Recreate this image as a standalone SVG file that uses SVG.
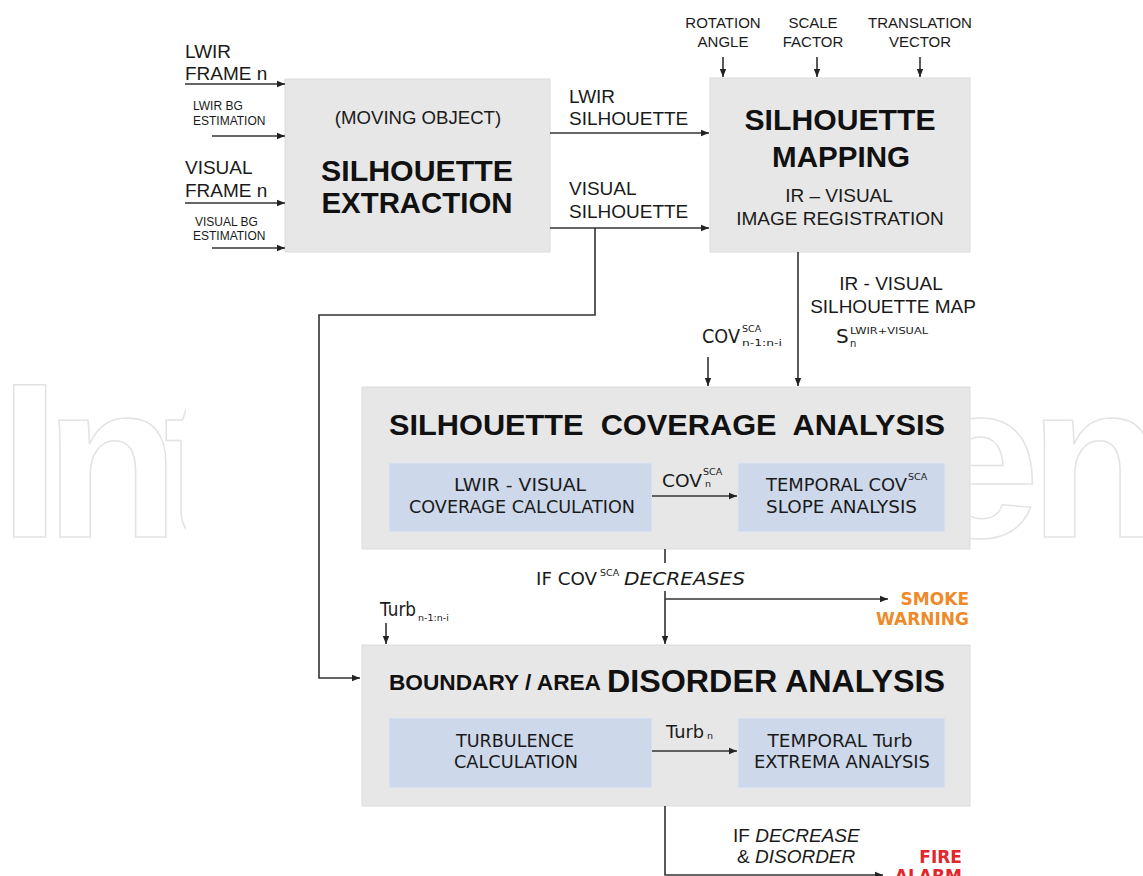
<svg xmlns="http://www.w3.org/2000/svg" width="1143" height="876" viewBox="0 0 1143 876">
<defs>
<style>
.box{fill:#e7e7e7;stroke:#dcdcdc;stroke-width:1}
.sub{fill:#cdd9eb;stroke:#dfe6f0;stroke-width:1}
.ln{fill:none;stroke:#333;stroke-width:1.6}
.ar{fill:none;stroke:#333;stroke-width:1.6;marker-end:url(#ah)}
.a{font-family:"Liberation Sans",Arial,sans-serif;fill:#1a1a1a}
.b{font-family:"Liberation Sans",Arial,sans-serif;font-weight:bold;fill:#111}
.t{font-family:"DejaVu Sans",Verdana,sans-serif;fill:#1a1a1a}
.w{font-family:"DejaVu Sans",Verdana,sans-serif;font-weight:bold;font-size:17px}
.wm{font-family:"Liberation Sans",Arial,sans-serif;font-weight:700;font-size:221px;fill:#fff;stroke:#e3e3e3;stroke-width:1.5}
</style>
<marker id="ah" viewBox="0 0 10 10" refX="10" refY="5" markerWidth="8" markerHeight="8" markerUnits="userSpaceOnUse" orient="auto"><path d="M0,1 L10,5 L0,9 z" fill="#222"/></marker>
<clipPath id="cl"><rect x="0" y="300" width="186" height="300"/></clipPath>
<clipPath id="cr"><rect x="971" y="300" width="172" height="300"/></clipPath>
</defs>
<rect width="1143" height="876" fill="#fff"/>
<g id="watermark">
<text class="wm" x="-1" y="537" letter-spacing="-16" clip-path="url(#cl)">Int</text>
<text class="wm" x="917" y="537" letter-spacing="-11" clip-path="url(#cr)">en</text>
</g>
<g id="inputs">
<text class="a" font-size="19" x="185" y="58">LWIR</text>
<text class="a" font-size="19" x="185" y="80">FRAME n</text>
<text class="a" font-size="12" x="193" y="110">LWIR BG</text>
<text class="a" font-size="12" x="193" y="125">ESTIMATION</text>
<text class="a" font-size="19" x="185" y="174">VISUAL</text>
<text class="a" font-size="19" x="185" y="197">FRAME n</text>
<text class="a" font-size="12" x="195" y="226">VISUAL BG</text>
<text class="a" font-size="12" x="193" y="240">ESTIMATION</text>
<text class="a" font-size="15" x="723" y="28" text-anchor="middle">ROTATION</text>
<text class="a" font-size="15" x="723" y="47" text-anchor="middle">ANGLE</text>
<text class="a" font-size="15" x="813" y="28" text-anchor="middle">SCALE</text>
<text class="a" font-size="15" x="813" y="47" text-anchor="middle">FACTOR</text>
<text class="a" font-size="15" x="920" y="28" text-anchor="middle">TRANSLATION</text>
<text class="a" font-size="15" x="920" y="47" text-anchor="middle">VECTOR</text>
</g>
<g id="n-extraction">
<rect class="box" x="285" y="79" width="265" height="173"/>
<text class="a" font-size="18.6" x="418" y="124" text-anchor="middle">(MOVING OBJECT)</text>
<text class="b" font-size="30" x="417" y="181" text-anchor="middle" textLength="192" lengthAdjust="spacingAndGlyphs">SILHOUETTE</text>
<text class="b" font-size="30" x="417" y="213" text-anchor="middle" textLength="191" lengthAdjust="spacingAndGlyphs">EXTRACTION</text>
</g>
<g id="n-mapping">
<rect class="box" x="710" y="78" width="260" height="174"/>
<text class="b" font-size="30" x="840" y="130" text-anchor="middle" textLength="191" lengthAdjust="spacingAndGlyphs">SILHOUETTE</text>
<text class="b" font-size="30" x="841" y="167" text-anchor="middle" textLength="138" lengthAdjust="spacingAndGlyphs">MAPPING</text>
<text class="a" font-size="19" x="839" y="202" text-anchor="middle">IR – VISUAL</text>
<text class="a" font-size="19" x="840" y="225" text-anchor="middle">IMAGE REGISTRATION</text>
</g>
<g id="n-coverage">
<rect class="box" x="362" y="387" width="608" height="162"/>
<text class="b" font-size="29" x="389" y="435" textLength="556" lengthAdjust="spacingAndGlyphs" xml:space="preserve">SILHOUETTE  COVERAGE  ANALYSIS</text>
<g id="n-coverage-calc">
<rect class="sub" x="389" y="463" width="263" height="69"/>
<text class="t" font-size="18" x="520" y="491" text-anchor="middle" textLength="132" lengthAdjust="spacingAndGlyphs">LWIR - VISUAL</text>
<text class="t" font-size="18" x="522" y="513" text-anchor="middle" textLength="226" lengthAdjust="spacingAndGlyphs">COVERAGE CALCULATION</text>
</g>
<g id="n-coverage-slope">
<rect class="sub" x="738" y="463" width="207" height="69"/>
<text class="t" font-size="18" y="491"><tspan x="766" textLength="141" lengthAdjust="spacingAndGlyphs">TEMPORAL COV</tspan><tspan font-size="9.5" x="908" dy="-11">SCA</tspan></text>
<text class="t" font-size="18" x="766" y="513" textLength="151" lengthAdjust="spacingAndGlyphs">SLOPE ANALYSIS</text>
</g>
</g>
<g id="n-disorder">
<rect class="box" x="362" y="645" width="608" height="161"/>
<text class="b" font-size="22" x="389" y="690" textLength="212" lengthAdjust="spacingAndGlyphs">BOUNDARY / AREA</text>
<text class="b" font-size="31" x="607" y="692" textLength="338" lengthAdjust="spacingAndGlyphs">DISORDER ANALYSIS</text>
<g id="n-turb-calc">
<rect class="sub" x="389" y="718" width="263" height="70"/>
<text class="t" font-size="18" x="515" y="747" text-anchor="middle" textLength="118" lengthAdjust="spacingAndGlyphs">TURBULENCE</text>
<text class="t" font-size="18" x="516" y="768" text-anchor="middle" textLength="124" lengthAdjust="spacingAndGlyphs">CALCULATION</text>
</g>
<g id="n-turb-extrema">
<rect class="sub" x="738" y="718" width="207" height="70"/>
<text class="t" font-size="18" x="840" y="747" text-anchor="middle" textLength="145" lengthAdjust="spacingAndGlyphs">TEMPORAL Turb</text>
<text class="t" font-size="18" x="842" y="768" text-anchor="middle" textLength="176" lengthAdjust="spacingAndGlyphs">EXTREMA ANALYSIS</text>
</g>
</g>
<g id="outputs">
<text class="w" x="969" y="605" text-anchor="end" fill="#ef8a2a">SMOKE</text>
<text class="w" x="969" y="625" text-anchor="end" fill="#ef8a2a">WARNING</text>
<text class="w" x="962" y="863" text-anchor="end" fill="#e2262b">FIRE</text>
<text class="w" x="962" y="882" text-anchor="end" fill="#e2262b">ALARM</text>
</g>
<g id="connectors">
<line class="ar" x1="185" y1="84" x2="285" y2="84"/>
<line class="ar" x1="212" y1="136" x2="285" y2="136"/>
<line class="ar" x1="185" y1="203" x2="285" y2="203"/>
<line class="ar" x1="212" y1="248" x2="285" y2="248"/>
<line class="ar" x1="723" y1="57" x2="723" y2="77"/>
<line class="ar" x1="817" y1="57" x2="817" y2="77"/>
<line class="ar" x1="920" y1="57" x2="920" y2="77"/>
<line class="ar" x1="550" y1="133" x2="709" y2="133"/>
<line class="ar" x1="550" y1="228" x2="709" y2="228"/>
<path class="ar" d="M595,228 V315 H319 V678 H360"/>
<line class="ar" x1="798" y1="252" x2="798" y2="386"/>
<line class="ar" x1="708" y1="357" x2="708" y2="386"/>
<line class="ln" x1="665" y1="549" x2="665" y2="563"/>
<line class="ar" x1="665" y1="591" x2="665" y2="644"/>
<line class="ar" x1="665" y1="599" x2="888" y2="599"/>
<line class="ar" x1="386" y1="623" x2="386" y2="644"/>
<line class="ar" x1="652" y1="496" x2="737" y2="496"/>
<line class="ar" x1="652" y1="751" x2="737" y2="751"/>
<path class="ar" d="M665,806 V875 H883"/>
<text class="a" font-size="19" x="569" y="103">LWIR</text>
<text class="a" font-size="19" x="569" y="125">SILHOUETTE</text>
<text class="a" font-size="19" x="569" y="195">VISUAL</text>
<text class="a" font-size="19" x="569" y="218">SILHOUETTE</text>
<text class="a" font-size="19" x="891" y="290" text-anchor="middle">IR - VISUAL</text>
<text class="a" font-size="19" x="893" y="313" text-anchor="middle">SILHOUETTE MAP</text>
<text class="t" font-size="20" y="343"><tspan x="836">S</tspan><tspan font-size="9" x="850" dy="-9" textLength="78" lengthAdjust="spacingAndGlyphs">LWIR+VISUAL</tspan><tspan font-size="10" x="850" dy="13">n</tspan></text>
<text class="t" font-size="19" y="343"><tspan x="702" textLength="38" lengthAdjust="spacingAndGlyphs">COV</tspan><tspan font-size="9.5" x="742" dy="-11">SCA</tspan><tspan font-size="9.5" x="742" dy="14" textLength="40" lengthAdjust="spacingAndGlyphs">n-1:n-i</tspan></text>
<text class="t" font-size="18" y="487"><tspan x="662" textLength="40" lengthAdjust="spacingAndGlyphs">COV</tspan><tspan font-size="9.5" x="703" dy="-12">SCA</tspan><tspan font-size="9.5" x="705" dy="12">n</tspan></text>
<text class="t" font-size="18" y="585"><tspan x="536" textLength="61" lengthAdjust="spacingAndGlyphs">IF COV</tspan><tspan x="600" y="576" font-size="9.5">SCA</tspan><tspan x="624" y="585" font-style="italic" textLength="121" lengthAdjust="spacingAndGlyphs">DECREASES</tspan></text>
<text class="t" font-size="19" y="616"><tspan x="380" textLength="36" lengthAdjust="spacingAndGlyphs">Turb</tspan><tspan font-size="9.5" x="418" dy="5">n-1:n-i</tspan></text>
<text class="t" font-size="18" y="738"><tspan x="666" textLength="38" lengthAdjust="spacingAndGlyphs">Turb</tspan><tspan font-size="9.5" x="707" dy="1">n</tspan></text>
<text class="a" font-size="19" x="733" y="842">IF <tspan font-style="italic">DECREASE</tspan></text>
<text class="a" font-size="19" x="737" y="863">&amp; <tspan font-style="italic">DISORDER</tspan></text>
</g>
</svg>
